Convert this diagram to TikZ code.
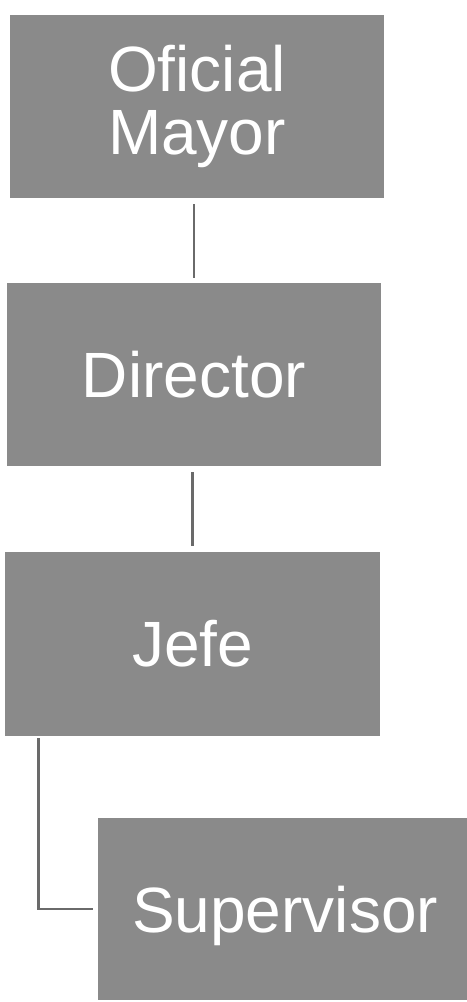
\documentclass[tikz,border=0pt]{standalone}
\usepackage{fontspec}
\setmainfont{Liberation Sans}
\definecolor{boxgray}{HTML}{8A8A8A}
\definecolor{linegray}{HTML}{6A6A6A}
\tikzset{
  orgbox/.style={rectangle, fill=boxgray, draw=none, inner sep=0pt,
    minimum width=374bp, minimum height=183bp, text=white, align=center,
    font=\fontsize{64bp}{63bp}\selectfont},
  conn/.style={draw=linegray, line width=2.6bp}
}
\begin{document}
\begin{tikzpicture}[x=1bp,y=-1bp]
\useasboundingbox (0,0) rectangle (467,1002);
\begin{scope}
\clip (0,0) rectangle (467,1002);
\node[orgbox] (b1) at (197,106.5) {Oficial\\Mayor};
\node[orgbox] (b2) at (194,374.5) {Director};
\node[orgbox, minimum height=184bp] (b3) at (192.5,644) {Jefe};
\node[orgbox, minimum height=182bp, text depth=0pt] (b4) at (285,909) {Supervisor};
\end{scope}
\draw[conn, shorten <=6bp, shorten >=5bp] (b2.north |- b1.south) -- (b2.north);
\draw[conn, shorten <=6bp, shorten >=6bp] (b3.north |- b2.south) -- (b3.north);
\coordinate (c3) at ([xshift=33bp]b3.south west);
\draw[conn, shorten <=2bp, shorten >=5bp] (c3) |- (b4.west);
\end{tikzpicture}
\end{document}
